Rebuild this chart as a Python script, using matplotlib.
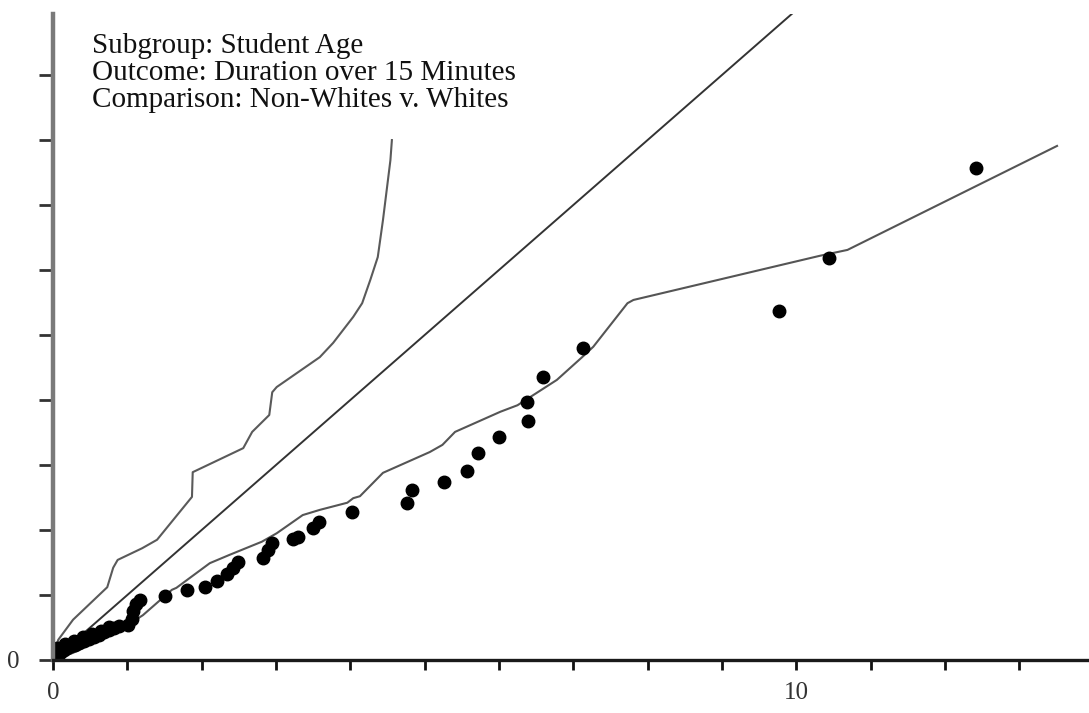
import matplotlib
matplotlib.use("Agg")
import matplotlib.pyplot as plt

# observed quantiles (non-whites vs whites), plotted as dots
obs_x = [0.01, 0.03, 0.06, 0.09, 0.12, 0.15, 0.19, 0.24, 0.30, 0.35, 0.42, 0.48,
         0.55, 0.62, 0.69, 0.75, 0.82, 0.89, 1.01, 1.06, 1.08, 1.12, 1.17,
         0.05, 0.16, 0.28, 0.40, 0.52, 0.64, 0.76,
         1.51, 1.80, 2.05, 2.21, 2.34, 2.42, 2.49, 2.83, 2.89, 2.95, 3.23, 3.30,
         3.50, 3.58, 4.02, 4.76, 4.83, 5.26, 5.57, 5.72, 6.00, 6.39, 6.38, 6.59,
         7.13, 9.77, 10.44, 12.42]
obs_y = [0.02, 0.08, 0.13, 0.11, 0.14, 0.15, 0.18, 0.22, 0.23, 0.26, 0.29, 0.32,
         0.35, 0.38, 0.43, 0.46, 0.49, 0.52, 0.54, 0.63, 0.75, 0.86, 0.92,
         0.19, 0.24, 0.29, 0.35, 0.40, 0.45, 0.51,
         0.98, 1.08, 1.12, 1.22, 1.32, 1.42, 1.51, 1.57, 1.69, 1.80, 1.86, 1.89,
         2.03, 2.12, 2.28, 2.42, 2.62, 2.74, 2.91, 3.18, 3.43, 3.68, 3.97, 4.35,
         4.80, 5.37, 6.18, 7.57]

# upper confidence band
upper_x = [0, 0.03, 0.07, 0.27, 0.73, 0.81, 0.87, 1.20, 1.40, 1.87, 1.88, 2.45,
           2.56, 2.68, 2.91, 2.95, 3.01, 3.59, 3.77, 4.04, 4.16, 4.27, 4.37,
           4.44, 4.54, 4.56]
upper_y = [0, 0.15, 0.31, 0.62, 1.12, 1.42, 1.54, 1.72, 1.85, 2.51, 2.89, 3.20,
           3.26, 3.51, 3.77, 4.12, 4.20, 4.66, 4.88, 5.28, 5.49, 5.85, 6.20,
           6.77, 7.69, 8.00]

# lower confidence band
lower_x = [0, 0.27, 0.63, 0.94, 1.21, 1.60, 1.66, 2.11, 2.38, 2.81, 3.01, 3.36,
           3.59, 3.96, 4.04, 4.13, 4.44, 5.07, 5.24, 5.41, 6.02, 6.25, 6.78,
           7.12, 7.27, 7.73, 7.81, 10.32, 10.69, 13.51]
lower_y = [0, 0.11, 0.31, 0.49, 0.69, 1.08, 1.11, 1.49, 1.62, 1.82, 1.95, 2.23,
           2.31, 2.42, 2.49, 2.52, 2.88, 3.20, 3.31, 3.51, 3.82, 3.92, 4.31,
           4.66, 4.82, 5.49, 5.54, 6.22, 6.31, 7.91]

ref_line = [0, 14]

notes = ["Subgroup: Student Age",
         "Outcome: Duration over 15 Minutes",
         "Comparison: Non-Whites v. Whites"]

x_ticks = list(range(14))
x_labels = ["0", "", "", "", "", "", "", "", "", "", "10", "", "", ""]
y_ticks = list(range(10))
y_labels = ["0"] + [""] * 9

fig = plt.figure(figsize=(10.89, 7.13), dpi=100)
ax = fig.add_axes([53 / 1089, 53 / 713, 1036 / 1089, 646 / 713])

ax.plot(ref_line, ref_line, color="#333333", lw=1.4)
ax.plot(upper_x, upper_y, color="#5a5a5a", lw=1.5)
ax.plot(lower_x, lower_y, color="#555555", lw=1.5)
ax.plot(obs_x, obs_y, "o", color="black", ms=9, mec="black")

ax.set_xlim(0, 13.94)
ax.set_ylim(0, 9.94)

for spine in ["top", "right"]:
    ax.spines[spine].set_visible(False)
ax.spines["left"].set_color("#7a7a7a")
ax.spines["left"].set_linewidth(3.2)
ax.spines["bottom"].set_color("#1a1a1a")
ax.spines["bottom"].set_linewidth(2.4)

ax.set_xticks(x_ticks)
ax.set_xticklabels(x_labels, family="Liberation Serif", fontsize=18, color="#333333")
ax.set_yticks(y_ticks)
ax.set_yticklabels(y_labels, family="Liberation Serif", fontsize=18, color="#333333")
ax.tick_params(axis="x", direction="out", length=7, width=2, color="#111111", pad=9)
ax.tick_params(axis="y", direction="out", length=10, width=2, color="#333333", pad=14)

for i, line in enumerate(notes):
    ax.text(0.52, 9.34 - 0.415 * i, line, family="Liberation Serif", fontsize=21,
            color="#111111", va="baseline", ha="left")

fig.savefig("out.png", dpi=100)
